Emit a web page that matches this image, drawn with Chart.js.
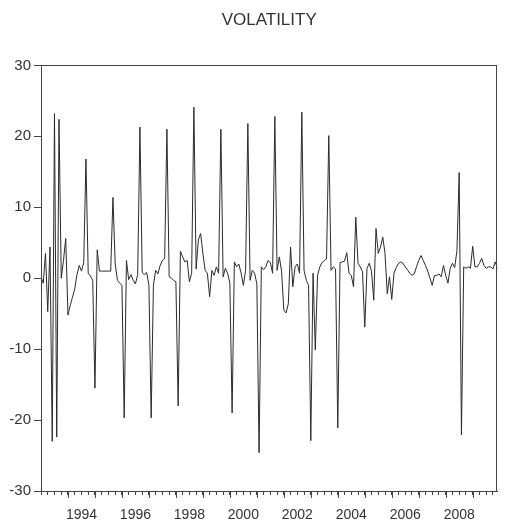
<!DOCTYPE html>
<html>
<head>
<meta charset="utf-8">
<title>Volatility</title>
<script src="https://cdn.jsdelivr.net/npm/chart.js@4.4.1/dist/chart.umd.min.js"></script>
<style>
    html, body { margin: 0; padding: 0; background: #fff; }
    #wrap { width: 505px; height: 523px; }
</style>
</head>
<body>
<div id="wrap"><canvas id="volChart" width="505" height="523"></canvas></div>
<script>
// monthly series, first observation January 1993
const startYear = 1993;

const volatility = [
    0.2, -0.7, 3.5, -4.7, 4.4, -23.0, 23.2, -22.4, 22.4, 0.0, 2.5, 5.6,      // 1993
    -5.2, -3.8, -2.7, -1.5, 0.5, 1.8, 1.0, 2.2, 16.8, 0.7, 0.3, -0.3,        // 1994
    -15.5, 4.0, 1.0, 1.0, 1.0, 1.0, 1.0, 1.0, 11.4, 2.0, -0.3, -0.7,         // 1995
    -1.0, -19.7, 2.5, -0.2, 0.5, -0.3, -0.8, 0.5, 21.3, 0.8, 0.5, 0.8,       // 1996
    -1.0, -19.7, -1.0, 1.1, 0.6, 1.8, 2.5, 2.8, 21.0, 0.2, 0.0, -0.3,        // 1997
    -0.5, -18.0, 3.8, 3.0, 2.3, 2.5, -0.5, 0.7, 24.1, 1.3, 5.4, 6.3,         // 1998
    3.5, 1.1, 0.7, -2.6, 1.1, 0.4, 1.6, 0.7, 21.0, 0.2, 1.4, 0.7,            // 1999
    -0.7, -19.0, 2.3, 1.6, 2.0, 0.7, -1.0, 1.1, 21.8, -0.3, 1.1, 0.7,        // 2000
    -0.8, -24.6, 1.6, 1.2, 1.6, 2.5, 2.2, 0.7, 22.8, 1.1, 3.0, 1.0,          // 2001
    -4.5, -4.9, -3.6, 4.4, -1.2, 1.6, 2.0, 0.7, 23.4, 1.1, -0.3, -1.0,       // 2002
    -22.9, 0.7, -10.1, 0.4, 1.6, 2.2, 2.5, 2.7, 20.1, 1.1, 1.6, 1.3,         // 2003
    -21.1, 2.2, 2.3, 2.4, 3.6, 0.7, 0.4, -1.2, 8.6, 2.1, 1.6, 0.9,           // 2004
    -6.9, 1.4, 2.1, 1.0, -3.1, 7.0, 3.5, 4.4, 5.8, 3.5, -2.2, 0.2,           // 2005
    -3.0, 0.7, 1.5, 2.1, 2.3, 2.1, 1.6, 1.2, 0.7, 0.4, 0.6, 1.6,             // 2006
    2.5, 3.2, 2.5, 1.8, 1.0, 0.0, -1.0, 0.4, 0.4, 0.6, 0.2, 1.8,             // 2007
    0.4, -0.7, 1.4, 2.1, 1.5, 3.9, 14.9, -22.1, 1.6, 1.4, 1.6, 1.4,          // 2008
    4.5, 1.6, 1.6, 2.1, 2.8, 1.8, 1.4, 1.6, 1.6, 1.3, 2.3, 1.4               // 2009
];

const yearLabels = [1994, 1996, 1998, 2000, 2002, 2004, 2006, 2008];
const yTicks = [-30, -20, -10, 0, 10, 20, 30];

const axisColor = '#444';
const textColor = '#333';

Chart.defaults.font.family = "'Liberation Sans', Arial, sans-serif";
Chart.defaults.color = textColor;

// box round the plot area
const framePlugin = {
    id: 'frame',
    afterDatasetsDraw(chart) {
        const { ctx, chartArea } = chart;
        const l = Math.round(chartArea.left) + 0.5;
        const t = Math.round(chartArea.top) + 0.5;
        const r = Math.round(chartArea.right) - 0.5;
        const b = Math.round(chartArea.bottom) + 0.5;
        ctx.save();
        ctx.strokeStyle = axisColor;
        ctx.lineWidth = 1;
        ctx.strokeRect(l, t, r - l, b - t);
        ctx.restore();
    }
};

// longer tick marks at the start of each year
const yearTickPlugin = {
    id: 'yearTicks',
    afterDraw(chart) {
        const { ctx } = chart;
        const xs = chart.scales.x;
        ctx.save();
        ctx.strokeStyle = axisColor;
        ctx.lineWidth = 1;
        ctx.beginPath();
        for (let m = 12; m < volatility.length; m += 12) {
            const px = Math.round(xs.getPixelForValue(m)) + 0.5;
            ctx.moveTo(px, xs.top);
            ctx.lineTo(px, xs.top + 7);
        }
        ctx.stroke();
        ctx.restore();
    }
};

const points = volatility.map((v, i) => ({ x: i, y: v }));

new Chart(document.getElementById('volChart').getContext('2d'), {
    type: 'line',
    data: {
        datasets: [{
            label: 'VOLATILITY',
            data: points,
            borderColor: '#2b2b2b',
            borderWidth: 1,
            pointRadius: 0,
            tension: 0,
            fill: false
        }]
    },
    options: {
        responsive: false,
        animation: false,
        layout: { padding: { left: 0, right: 1, top: 0, bottom: 0 } },
        plugins: {
            legend: { display: false },
            tooltip: { enabled: false },
            title: {
                display: true,
                text: 'VOLATILITY',
                fullSize: false,
                color: textColor,
                font: { size: 17, weight: 'normal' },
                padding: { top: 10, bottom: 35 }
            }
        },
        scales: {
            x: {
                type: 'linear',
                min: 0,
                max: volatility.length - 1,
                afterFit: s => { s.height = 32; },
                border: { display: true, color: axisColor, width: 1 },
                grid: {
                    display: true,
                    drawOnChartArea: false,
                    drawTicks: true,
                    tickLength: 4,
                    color: axisColor
                },
                ticks: {
                    stepSize: 3,
                    includeBounds: false,
                    autoSkip: false,
                    maxRotation: 0,
                    padding: 12,
                    color: textColor,
                    font: { size: 14 },
                    callback: function (value) {
                        if (value % 12 !== 6) return '';
                        const yr = startYear + Math.floor(value / 12);
                        return yearLabels.includes(yr) ? String(yr) : '';
                    }
                }
            },
            y: {
                min: -30,
                max: 30,
                afterFit: s => { s.width = 41; },
                afterBuildTicks: s => { s.ticks = yTicks.map(v => ({ value: v })); },
                border: { display: true, color: axisColor, width: 1 },
                grid: {
                    display: true,
                    drawOnChartArea: false,
                    drawTicks: true,
                    tickLength: 7,
                    color: axisColor
                },
                ticks: {
                    padding: 3,
                    color: textColor,
                    font: { size: 15 }
                }
            }
        }
    },
    plugins: [framePlugin, yearTickPlugin]
});
</script>
</body>
</html>
